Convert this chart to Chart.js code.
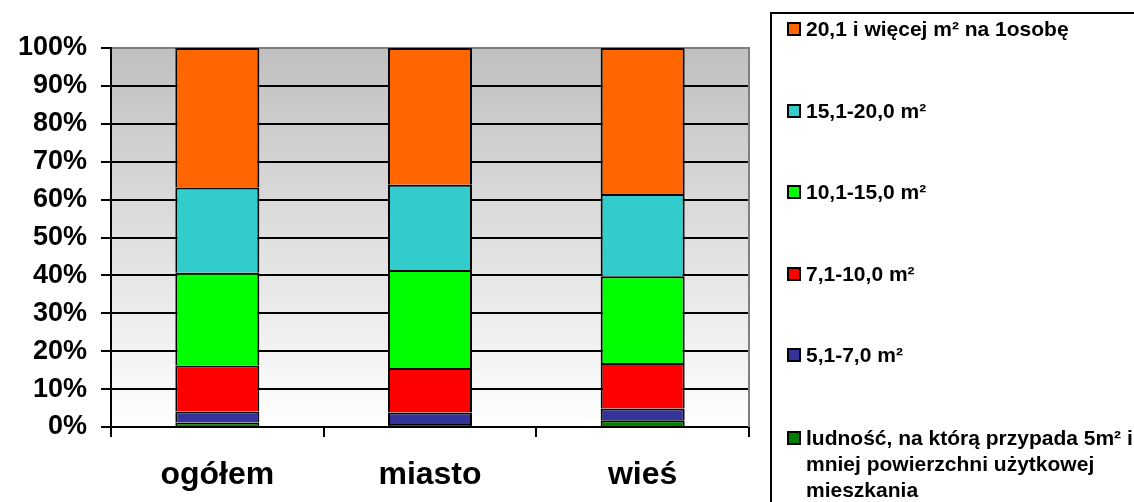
<!DOCTYPE html>
<html lang="pl">
<head>
<meta charset="utf-8">
<title>Ludność według powierzchni użytkowej mieszkania na 1 osobę</title>
<script src="https://cdn.jsdelivr.net/npm/chart.js@4/dist/chart.umd.min.js"></script>
<style>
  html, body { margin: 0; padding: 0; background: #fff; overflow: hidden; }
  #wrap { position: relative; width: 1134px; height: 502px; overflow: hidden; }
  #chart { position: absolute; left: 0; top: 0; }
  #legend {
    position: absolute; left: 770px; top: 12px; width: 420px; height: 540px;
    border: 2px solid #000; box-sizing: border-box;
    font-family: "Liberation Sans", Arial, sans-serif; font-weight: bold;
    font-size: 21px; line-height: 26px; color: #000;
  }
  .item { position: absolute; left: 15px; display: flex; align-items: flex-start; white-space: pre; }
  .box { width: 10px; height: 10px; border: 2px solid #000; margin-top: 6px; margin-right: 5px; flex: none; }
</style>
</head>
<body>
<div id="wrap">
  <canvas id="chart" width="1134" height="502"></canvas>
  <div id="legend"></div>
</div>
<script>
// Categories on the x axis
const categories = ['ogółem', 'miasto', 'wieś'];

// Share of population (%) by usable floor area per person, bottom to top
const upTo5 = [1.2, 0.8, 1.8];
const from5to7 = [2.9, 3.0, 3.1];
const from7to10 = [12.1, 11.8, 12.0];
const from10to15 = [24.5, 25.8, 22.9];
const from15to20 = [22.5, 22.5, 21.7];
const over20 = [36.8, 36.1, 38.5];

// Series names
const seriesLabels = [
  'ludność, na którą przypada 5m² i\nmniej powierzchni użytkowej\nmieszkania',
  '5,1-7,0 m²',
  '7,1-10,0 m²',
  '10,1-15,0 m²',
  '15,1-20,0 m²',
  '20,1 i więcej m² na 1osobę'
];
const seriesColors = ['#008000', '#333399', '#FF0000', '#00FF00', '#33CCCC', '#FF6600'];
const seriesValues = [upTo5, from5to7, from7to10, from10to15, from15to20, over20];

// Y axis tick labels
const yTicks = ['0%', '10%', '20%', '30%', '40%', '50%', '60%', '70%', '80%', '90%', '100%'];

const datasets = seriesValues.map((vals, i) => ({
  label: seriesLabels[i],
  data: vals,
  backgroundColor: seriesColors[i],
  borderColor: '#000',
  borderWidth: 2,
  borderSkipped: 'start',
  barPercentage: 0.395,
  categoryPercentage: 1.0
}));

// Gradient plot background with a grey frame on the top and right
const plotFrame = {
  id: 'plotFrame',
  beforeDraw(chart) {
    const { ctx, chartArea: a } = chart;
    const g = ctx.createLinearGradient(0, a.top, 0, a.bottom);
    g.addColorStop(0, '#c0c0c0');
    g.addColorStop(1, '#ffffff');
    ctx.save();
    ctx.fillStyle = g;
    ctx.fillRect(a.left, a.top, a.right - a.left, a.bottom - a.top);
    ctx.restore();
  },
  beforeDatasetsDraw(chart) {
    const { ctx, chartArea: a } = chart;
    ctx.save();
    ctx.strokeStyle = '#808080';
    ctx.lineWidth = 2;
    ctx.beginPath();
    ctx.moveTo(a.left + 1, a.top);
    ctx.lineTo(a.right, a.top);
    ctx.lineTo(a.right, a.bottom);
    ctx.stroke();
    ctx.restore();
  }
};

const chart = new Chart(document.getElementById('chart'), {
  type: 'bar',
  data: { labels: categories, datasets },
  options: {
    responsive: false,
    animation: false,
    devicePixelRatio: 1,
    layout: { padding: { top: 48, right: 385, bottom: 0, left: 0 } },
    plugins: { legend: { display: false }, tooltip: { enabled: false } },
    scales: {
      x: {
        stacked: true,
        grid: { drawOnChartArea: false, drawTicks: true, tickLength: 10, color: '#000', lineWidth: 2 },
        border: { display: true, color: '#000', width: 2 },
        ticks: {
          color: '#000', padding: 19,
          font: { family: '"Liberation Sans", Arial, sans-serif', size: 32, weight: 'bold' }
        },
        afterFit(scale) { scale.height = 75; }
      },
      y: {
        stacked: true,
        min: 0, max: 100,
        grid: { color: '#000', lineWidth: 2, drawTicks: true, tickLength: 10 },
        border: { display: true, color: '#000', width: 2 },
        ticks: {
          stepSize: 10, color: '#000', padding: 14,
          font: { family: '"Liberation Sans", Arial, sans-serif', size: 27, weight: 'bold' },
          callback: (v) => yTicks[Math.round(v / 10)]
        },
        afterFit(scale) { scale.width = 111; }
      }
    }
  },
  plugins: [plotFrame]
});

// Legend, top item first
const legend = document.getElementById('legend');
const itemCenters = [15, 96.5, 178, 259.5, 341, 424];
chart.data.datasets.slice().reverse().forEach((ds, i) => {
  const item = document.createElement('div');
  item.className = 'item';
  item.style.top = (itemCenters[i] - 13) + 'px';
  const box = document.createElement('span');
  box.className = 'box';
  box.style.background = ds.backgroundColor;
  const txt = document.createElement('span');
  txt.textContent = ds.label;
  item.appendChild(box);
  item.appendChild(txt);
  legend.appendChild(item);
});
</script>
</body>
</html>
